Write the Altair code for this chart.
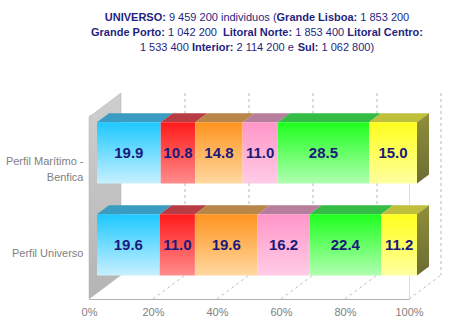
import altair as alt
import pandas as pd

# ---------------- data ----------------
rows = ["Perfil Marítimo - Benfica", "Perfil Universo"]
regions = ["Grande Lisboa", "Grande Porto", "Litoral Norte", "Litoral Centro", "Interior", "Sul"]
benfica = [19.9, 10.8, 14.8, 11.0, 28.5, 15.0]
universo = [19.6, 11.0, 19.6, 16.2, 22.4, 11.2]
x_ticks = [0, 20, 40, 60, 80, 100]

title_lines = [
    [("UNIVERSO:", True), (" 9 459 200 individuos (", False), ("Grande Lisboa:", True), (" 1 853 200", False)],
    [("Grande Porto:", True), (" 1 042 200  ", False), ("Litoral Norte:", True), (" 1 853 400 ", False), ("Litoral Centro:", True)],
    [("1 533 400 ", False), ("Interior:", True), (" 2 114 200 e ", False), ("Sul:", True), (" 1 062 800)", False)],
]

# ---------------- styles ----------------
FONT = "Liberation Sans"
front_top = ["#1ec8ff", "#ff1a1a", "#ff9420", "#ff96c8", "#1eff1e", "#ffff1e"]
front_bottom = ["#c8f0ff", "#ff8c8c", "#ffd8a0", "#ffcce6", "#b0ffb0", "#ffffa0"]
top_colors = ["#3a9cc0", "#b83c44", "#b88648", "#b87e9e", "#34bc44", "#bfbf3c"]
TITLE_COLOR = "#1f1f80"
VALUE_COLOR = "#1a1a7a"
LABEL_COLOR = "#808080"

# geometry (plot units: x in %, y in row units, 92 px per row)
PX_Y = 92.0
DEPTH_X = 10.0
DEPTH_Y = -24 / PX_Y
WALL_TOP = 2 / PX_Y
FRONT_DX = 2.5
TOP_DX = 3.75
TOP_DY = 9 / PX_Y
ROW_TOP = 0.08
ROW_BOT = 0.745

PAD_L, PAD_T, W, H = 89, 115, 320, 184

# ---------------- tables ----------------
recs = []
for i, (row, vals) in enumerate(zip(rows, [benfica, universo])):
    cum = 0.0
    for j, (reg, v) in enumerate(zip(regions, vals)):
        recs.append({"row": row, "i": i, "region": reg, "value": v, "x0": cum, "x1": cum + v})
        cum += v
bars = pd.DataFrame(recs)
bars["fx0"] = bars["x0"] + FRONT_DX
bars["fx1"] = bars["x1"] + FRONT_DX
bars["ytop"] = bars["i"] + ROW_TOP
bars["ybot"] = bars["i"] + ROW_BOT
bars["xm"] = (bars["fx0"] + bars["fx1"]) / 2
bars["ym"] = (bars["ytop"] + bars["ybot"]) / 2
bars["label"] = bars["value"].map(lambda v: f"{v:.1f}")

tops = []
for _, r in bars.iterrows():
    key = f"{r['i']}-{r['region']}"
    tops.append({"key": key, "region": r["region"], "y": r["ytop"], "xa": r["fx0"], "xb": r["fx1"]})
    tops.append({"key": key, "region": r["region"], "y": r["ytop"] - TOP_DY,
                 "xa": r["fx0"] + TOP_DX, "xb": r["fx1"] + TOP_DX})
tops = pd.DataFrame(tops)

sides = []
for i in range(len(rows)):
    sides.append({"i": i, "x": 100 + FRONT_DX, "y": i + ROW_TOP, "y2": i + ROW_BOT})
    sides.append({"i": i, "x": 100 + FRONT_DX + TOP_DX, "y": i + ROW_TOP - TOP_DY, "y2": i + ROW_BOT - TOP_DY})
sides = pd.DataFrame(sides)

wall = pd.DataFrame({"x": [0, DEPTH_X], "y": [WALL_TOP, WALL_TOP + DEPTH_Y], "y2": [2, 2 + DEPTH_Y]})
grid = pd.DataFrame({"v": x_ticks[1:]})
grid["bx"] = grid["v"] + DEPTH_X
grid["by"] = WALL_TOP + DEPTH_Y
grid["by2"] = 2 + DEPTH_Y
grid["fy"] = 2.0

xs = alt.Scale(domain=[0, 100], nice=False, zero=False)
ys = alt.Scale(domain=[0, 2], nice=False, zero=False, reverse=True)

wrapped = [r.replace("- ", "-|") for r in rows]
y_label_expr = f"split(datum.value < 1 ? '{wrapped[0]}' : '{wrapped[1]}', '|')"

AX = alt.Axis(
    values=x_ticks, labelExpr="datum.value + '%'", title=None, grid=False, ticks=False, tickSize=0,
    labelPadding=7, labelColor=LABEL_COLOR, labelFont=FONT, labelFontSize=11,
    domainColor="#b0b0b0", labelFlush=False)
AY = alt.Axis(
    values=[0.5, 1.5], labelExpr=y_label_expr, title=None, grid=False, ticks=False, tickSize=0,
    domain=False, labelPadding=6, labelColor=LABEL_COLOR, labelFont=FONT, labelFontSize=11,
    labelLineHeight=16, labelAlign="right", labelBaseline="middle")


def grad(c_top, c_bot):
    return alt.Gradient(
        gradient="linear",
        stops=[alt.GradientStop(color=c_top, offset=0), alt.GradientStop(color=c_bot, offset=1)],
        x1=0, x2=0, y1=0, y2=1,
    )


base_layer = alt.Chart(wall).mark_area(
    orient="vertical", fill=grad("#cfcfcf", "#b4b4b4"), stroke="#b0b0b0", strokeWidth=0.5
).encode(
    x=alt.X("x:Q", scale=xs, axis=AX),
    y=alt.Y("y:Q", scale=ys, axis=AY, stack=None),
    y2="y2:Q",
)

back_grid = alt.Chart(grid).mark_rule(color="#b8b8b8", strokeDash=[3, 3], strokeWidth=1).encode(
    x=alt.X("bx:Q", scale=xs, axis=AX), y=alt.Y("by:Q", scale=ys, axis=AY), y2="by2:Q"
)
floor_grid = alt.Chart(grid).mark_rule(color="#c0c0c0", strokeDash=[3, 3], strokeWidth=1).encode(
    x=alt.X("v:Q", scale=xs, axis=AX), x2="bx:Q",
    y=alt.Y("fy:Q", scale=ys, axis=AY), y2="by2:Q"
)

top_faces = alt.Chart(tops).mark_area(orient="horizontal").encode(
    y=alt.Y("y:Q", scale=ys, axis=AY, stack=None),
    x=alt.X("xa:Q", scale=xs, axis=AX, stack=None),
    x2="xb:Q",
    color=alt.Color("region:N", scale=alt.Scale(domain=regions, range=top_colors), legend=None),
    detail="key:N",
)

side_faces = alt.Chart(sides).mark_area(orient="vertical", fill=grad("#8f8f3a", "#6c6c34")).encode(
    x=alt.X("x:Q", scale=xs, axis=AX, stack=None),
    y=alt.Y("y:Q", scale=ys, axis=AY, stack=None),
    y2="y2:Q",
    detail="i:N",
)

front_layers = []
for reg, ct, cb in zip(regions, front_top, front_bottom):
    front_layers.append(
        alt.Chart(bars).transform_filter(alt.datum.region == reg).mark_rect(fill=grad(ct, cb)).encode(
            x=alt.X("fx0:Q", scale=xs, axis=AX), x2="fx1:Q",
            y=alt.Y("ytop:Q", scale=ys, axis=AY), y2="ybot:Q",
        )
    )

values_text = alt.Chart(bars).mark_text(
    font=FONT, fontSize=15, fontWeight="bold", color=VALUE_COLOR, align="center", baseline="middle"
).encode(
    x=alt.X("xm:Q", scale=xs, axis=AX), y=alt.Y("ym:Q", scale=ys, axis=AY), text="label:N"
)

# ---- title: mixed bold / regular segments laid out with Arial-compatible metrics ----
REG = {" ": 278, "(": 333, ")": 333, ":": 278, "a": 556, "b": 556, "c": 500, "d": 556, "e": 556,
       "i": 222, "l": 222, "n": 556, "o": 556, "r": 333, "s": 500, "t": 278, "u": 556, "v": 500,
       "G": 778, "L": 556, "P": 667, "N": 722, "C": 722, "I": 278, "S": 667, "U": 722, "V": 667,
       "E": 667, "R": 722, "O": 778}
BLD = {" ": 278, "(": 333, ")": 333, ":": 333, "a": 556, "b": 611, "c": 556, "d": 611, "e": 556,
       "i": 278, "l": 278, "n": 611, "o": 611, "r": 389, "s": 556, "t": 333, "u": 611, "v": 556,
       "G": 778, "L": 611, "P": 667, "N": 722, "C": 722, "I": 278, "S": 667, "U": 722, "V": 667,
       "E": 667, "R": 722, "O": 778}
TFS = 11


def tw(s, bold):
    t = BLD if bold else REG
    return sum(t.get(ch, 556) for ch in s) * TFS / 1000.0


title_layers = []
TITLE_CX = 257
line_y = [18, 33, 48]
for li, segs in enumerate(title_lines):
    total = sum(tw(s, b) for s, b in segs)
    x = TITLE_CX - total / 2
    for s, b in segs:
        lead = len(s) - len(s.lstrip(" "))
        shown = s.strip(" ")
        sx = x + tw(" " * lead, b)
        title_layers.append(
            alt.Chart(grid).transform_filter(alt.datum.v == x_ticks[1]).mark_text(
                font=FONT, fontSize=TFS, fontWeight="bold" if b else "normal", color=TITLE_COLOR,
                align="left", baseline="middle"
            ).encode(x=alt.value(sx - PAD_L), y=alt.value(line_y[li] - PAD_T), text=alt.value(shown))
        )
        x += tw(s, b)

chart = alt.layer(
    base_layer, back_grid, floor_grid, top_faces, *front_layers, side_faces, values_text, *title_layers
).resolve_scale(color="independent").properties(
    width=W, height=H,
    padding={"left": PAD_L, "top": PAD_T, "right": 450 - PAD_L - W, "bottom": 324 - PAD_T - H},
    autosize=alt.AutoSizeParams(type="none"),
).configure_view(stroke=None).configure(background="white")

chart.save("out.html", embed_options={"renderer": "svg", "actions": False})
